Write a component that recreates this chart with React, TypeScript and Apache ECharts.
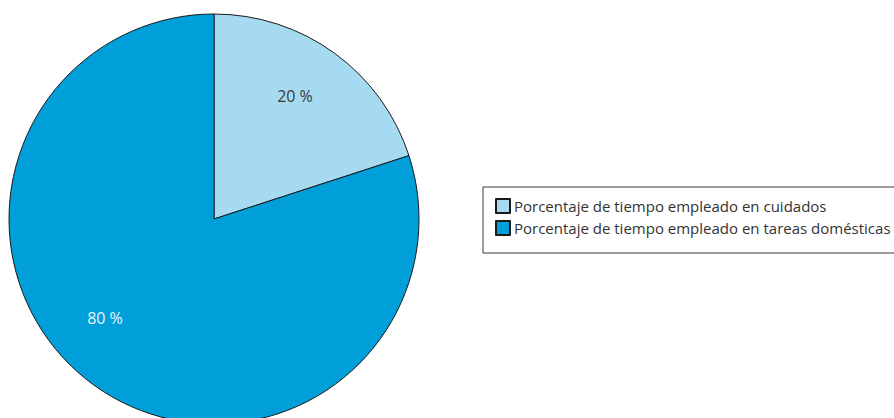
import React, { useEffect, useRef } from "react";
import * as echarts from "echarts";

const categories = [
  "Porcentaje de tiempo empleado en cuidados",
  "Porcentaje de tiempo empleado en tareas domésticas",
];
const values = [20, 80];
const colors = ["#A6DAF0", "#009FDA"];
const labelColors = ["#3a3a3a", "#e8f4fb"];

export default function App() {
  const ref = useRef<HTMLDivElement>(null);
  useEffect(() => {
    document.body.style.margin = "0";
    const chart = echarts.init(ref.current!, null, { renderer: "svg" });
    chart.setOption({
      animation: false,
      backgroundColor: "#ffffff",
      legend: {
        orient: "vertical",
        left: 483,
        top: 187,
        padding: [11, 12, 17, 12],
        borderColor: "#3a3a3a",
        borderWidth: 1,
        itemWidth: 14,
        itemHeight: 14,
        itemGap: 6,
        icon: "rect",
        textStyle: { fontFamily: "Open Sans", fontSize: 15, color: "#333333", padding: [0, 0, 0, -1] },
        data: categories,
      },
      series: [
        {
          type: "pie",
          center: [214, 219],
          radius: 205,
          startAngle: 90,
          clockwise: true,
          itemStyle: { borderColor: "#1a1a1a", borderWidth: 1 },
          emphasis: { disabled: true },
          label: {
            show: true,
            position: "inside",
            formatter: "{c} %",
            fontFamily: "Open Sans",
            fontSize: 16,
          },
          labelLine: { show: false },
          labelLayout: (params: any) => {
            const pos = [
              [295, 96],
              [105, 318],
            ][params.dataIndex];
            return { x: pos[0], y: pos[1], align: "center", verticalAlign: "middle" };
          },
          data: categories.map((name, i) => ({
            name,
            value: values[i],
            itemStyle: { color: colors[i] },
            label: { color: labelColors[i] },
          })),
        },
      ],
    });
    return () => chart.dispose();
  }, []);
  return <div ref={ref} style={{ width: 894, height: 418 }} />;
}
